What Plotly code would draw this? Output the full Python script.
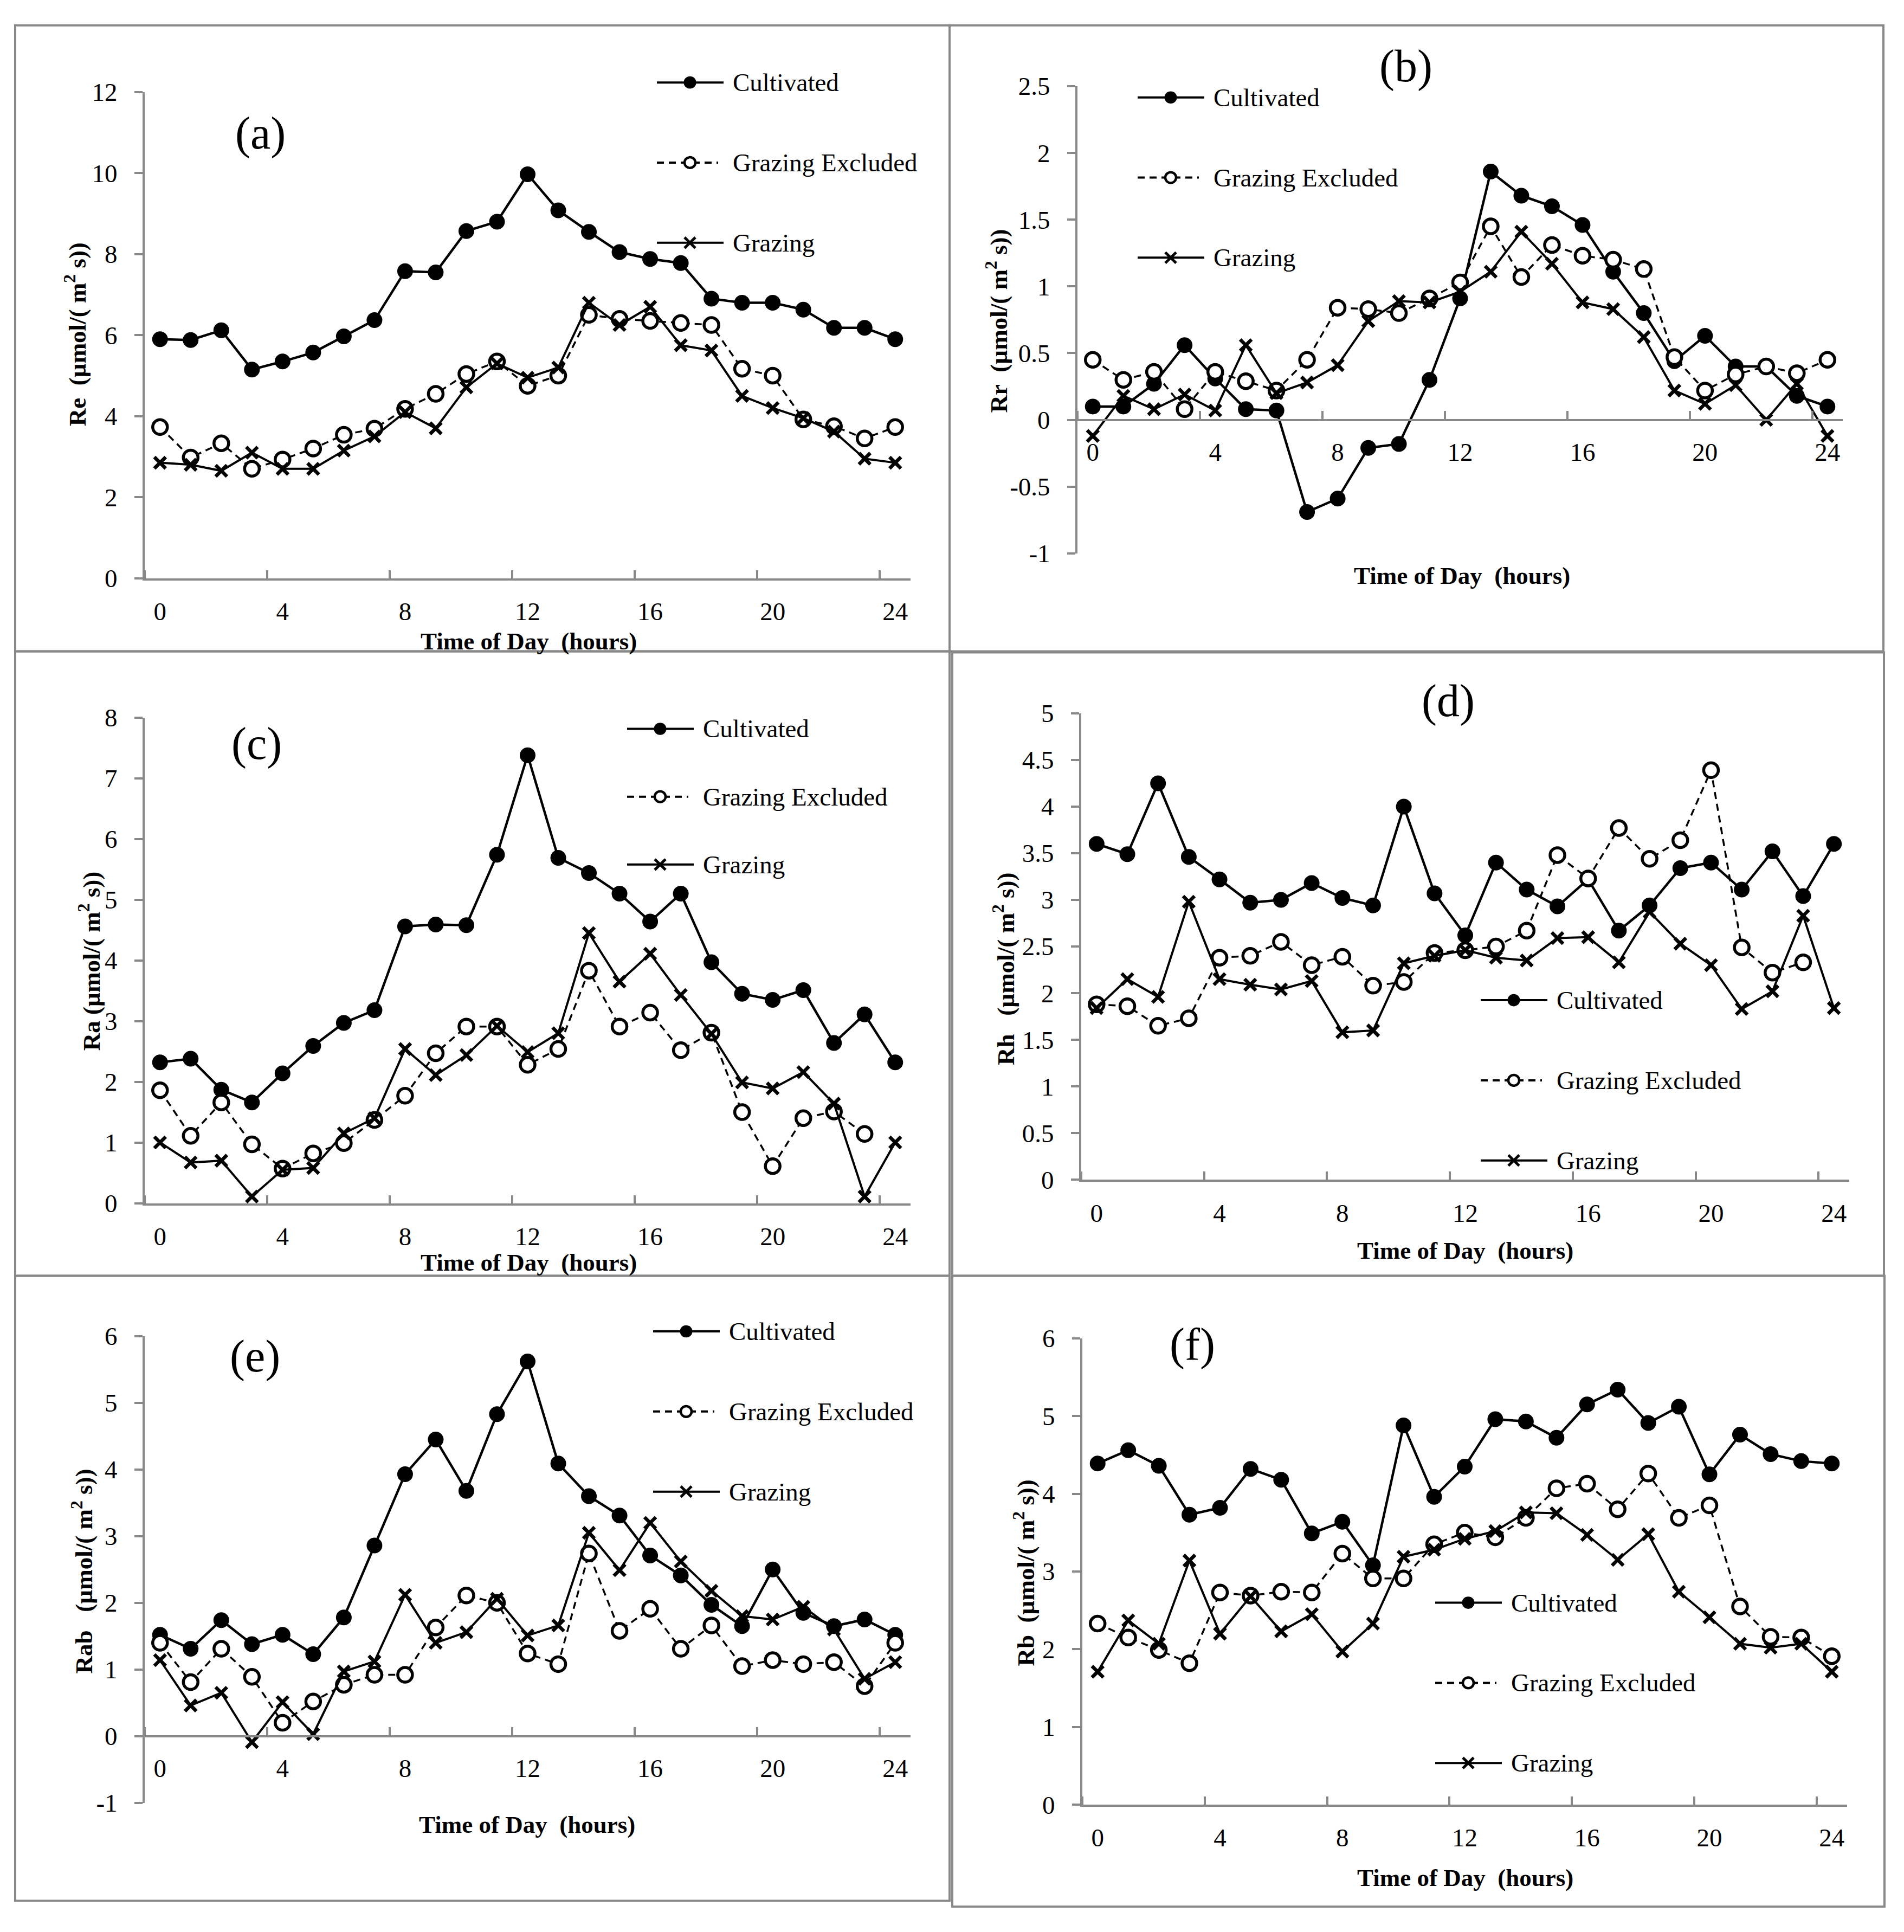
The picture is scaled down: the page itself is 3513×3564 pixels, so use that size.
import plotly.graph_objects as go

# ---------------- data ----------------
hours = list(range(25))
x_tick_vals = [0, 4, 8, 12, 16, 20, 24]
x_tick_labels = ["0", "4", "8", "12", "16", "20", "24"]
x_tick_marks = [-0.5, 3.5, 7.5, 11.5, 15.5, 19.5, 23.5]

series_names = ["Cultivated", "Grazing Excluded", "Grazing"]

# (a) Re
re_cultivated = [5.90, 5.88, 6.12, 5.15, 5.35, 5.57, 5.97, 6.37, 7.58, 7.55, 8.57, 8.80, 9.97,
                 9.08, 8.55, 8.05, 7.88, 7.78, 6.90, 6.80, 6.80, 6.63, 6.18, 6.18, 5.90]
re_excluded = [3.73, 2.98, 3.33, 2.70, 2.93, 3.20, 3.54, 3.69, 4.18, 4.55, 5.04, 5.35, 4.75,
               5.00, 6.50, 6.40, 6.35, 6.30, 6.25, 5.17, 5.00, 3.92, 3.75, 3.45, 3.73]
re_grazing = [2.85, 2.80, 2.65, 3.10, 2.70, 2.70, 3.15, 3.50, 4.10, 3.70, 4.71, 5.30, 4.95,
              5.20, 6.80, 6.25, 6.70, 5.75, 5.62, 4.50, 4.20, 3.95, 3.62, 2.95, 2.85]
re_ticks = [0, 2, 4, 6, 8, 10, 12]

# (b) Rr
rr_cultivated = [0.10, 0.10, 0.27, 0.56, 0.31, 0.08, 0.07, -0.69, -0.59, -0.21, -0.18, 0.30, 0.91,
                 1.86, 1.68, 1.60, 1.46, 1.11, 0.80, 0.44, 0.63, 0.40, 0.40, 0.18, 0.10]
rr_excluded = [0.45, 0.30, 0.36, 0.08, 0.36, 0.29, 0.22, 0.45, 0.84, 0.83, 0.80, 0.91, 1.03,
               1.45, 1.07, 1.31, 1.23, 1.20, 1.13, 0.47, 0.22, 0.34, 0.40, 0.35, 0.45]
rr_grazing = [-0.12, 0.18, 0.08, 0.19, 0.07, 0.56, 0.20, 0.28, 0.41, 0.74, 0.89, 0.88, 0.96,
              1.11, 1.41, 1.17, 0.88, 0.83, 0.62, 0.22, 0.12, 0.26, 0.00, 0.27, -0.12]
rr_ticks = [-1, -0.5, 0, 0.5, 1, 1.5, 2, 2.5]

# (c) Ra
ra_cultivated = [2.32, 2.38, 1.87, 1.66, 2.14, 2.59, 2.97, 3.18, 4.56, 4.59, 4.58, 5.74, 7.38,
                 5.69, 5.44, 5.10, 4.64, 5.10, 3.97, 3.45, 3.35, 3.51, 2.64, 3.11, 2.32]
ra_excluded = [1.86, 1.11, 1.66, 0.97, 0.57, 0.82, 0.99, 1.37, 1.77, 2.47, 2.91, 2.91, 2.28,
               2.54, 3.83, 2.91, 3.14, 2.52, 2.81, 1.50, 0.61, 1.40, 1.51, 1.14, None]
ra_grazing = [1.00, 0.67, 0.70, 0.11, 0.55, 0.58, 1.15, 1.40, 2.54, 2.11, 2.44, 2.92, 2.49,
              2.80, 4.45, 3.65, 4.11, 3.43, 2.79, 1.99, 1.89, 2.16, 1.64, 0.11, 1.00]
ra_ticks = [0, 1, 2, 3, 4, 5, 6, 7, 8]

# (d) Rh
rh_cultivated = [3.60, 3.49, 4.25, 3.46, 3.22, 2.97, 3.00, 3.18, 3.02, 2.94, 4.00, 3.07, 2.62,
                 3.40, 3.11, 2.93, 3.22, 2.67, 2.94, 3.34, 3.40, 3.11, 3.52, 3.04, 3.60]
rh_excluded = [1.88, 1.86, 1.65, 1.73, 2.38, 2.40, 2.55, 2.30, 2.39, 2.08, 2.12, 2.43, 2.46,
               2.50, 2.67, 3.48, 3.23, 3.77, 3.44, 3.64, 4.39, 2.49, 2.22, 2.33, None]
rh_grazing = [1.84, 2.15, 1.96, 2.98, 2.15, 2.09, 2.04, 2.13, 1.58, 1.60, 2.32, 2.40, 2.46,
              2.38, 2.35, 2.59, 2.60, 2.33, 2.87, 2.53, 2.30, 1.83, 2.02, 2.83, 1.84]
rh_ticks = [0, 0.5, 1, 1.5, 2, 2.5, 3, 3.5, 4, 4.5, 5]

# (e) Rab
rab_cultivated = [1.52, 1.31, 1.74, 1.38, 1.52, 1.23, 1.78, 2.86, 3.93, 4.45, 3.68, 4.83, 5.62,
                  4.09, 3.60, 3.31, 2.71, 2.41, 1.97, 1.65, 2.50, 1.85, 1.65, 1.75, 1.52]
rab_excluded = [1.40, 0.81, 1.31, 0.89, 0.20, 0.52, 0.77, 0.92, 0.92, 1.63, 2.11, 2.00, 1.24,
                1.08, 2.74, 1.58, 1.91, 1.31, 1.66, 1.05, 1.14, 1.08, 1.11, 0.75, 1.40]
rab_grazing = [1.14, 0.46, 0.65, -0.09, 0.51, 0.03, 0.97, 1.12, 2.12, 1.40, 1.56, 2.06, 1.51,
               1.66, 3.05, 2.49, 3.20, 2.62, 2.18, 1.80, 1.75, 1.94, 1.60, 0.86, 1.11]
rab_ticks = [-1, 0, 1, 2, 3, 4, 5, 6]

# (f) Rb
rb_cultivated = [4.39, 4.56, 4.36, 3.73, 3.82, 4.32, 4.18, 3.49, 3.64, 3.08, 4.88, 3.96, 4.35,
                 4.96, 4.93, 4.72, 5.15, 5.34, 4.91, 5.12, 4.25, 4.76, 4.51, 4.42, 4.39]
rb_excluded = [2.33, 2.15, 1.99, 1.82, 2.73, 2.69, 2.74, 2.73, 3.23, 2.91, 2.91, 3.35, 3.50,
               3.44, 3.69, 4.07, 4.13, 3.80, 4.26, 3.69, 3.85, 2.55, 2.16, 2.15, 1.91]
rb_grazing = [1.71, 2.37, 2.07, 3.14, 2.20, 2.68, 2.23, 2.45, 1.97, 2.33, 3.19, 3.28, 3.42,
              3.52, 3.76, 3.75, 3.47, 3.15, 3.48, 2.74, 2.41, 2.07, 2.02, 2.07, 1.71]
rb_ticks = [0, 1, 2, 3, 4, 5, 6]

# ---------------- styling / layout (pixel positions of the 3513x3564 page) ----------------
W, H = 3513, 3564
GREY = "#898989"
FONT = "Liberation Serif"
NB = "\u00a0"
GE_DASH = "13px,9px"


def fx(p):
    return p / W


def fy(p):
    return 1 - p / H


def fmt(v):
    return "%g" % v


panels = [
    dict(label="(a)", name="Re", spaces=2, data=(re_cultivated, re_excluded, re_grazing),
         ticks=re_ticks, box=(267, 1680, 146, 1056), xaxis_at=None,
         label_pos=(480, 223), xt=(975, 1174), yt=(139, 600),
         leg=(1273, 128), gap=150, frame=(28, 1752, 21, 1193)),
    dict(label="(b)", name="Rr", spaces=2, data=(rr_cultivated, rr_excluded, rr_grazing),
         ticks=rr_ticks, box=(1988, 3400, 135, 1009.5), xaxis_at=760,
         label_pos=(2594, 97), xt=(2697, 1051), yt=(1840, 575),
         leg=(2160, 156), gap=150, frame=(1752, 3475, 21, 1193)),
    dict(label="(c)", name="Ra", spaces=1, data=(ra_cultivated, ra_excluded, ra_grazing),
         ticks=ra_ticks, box=(267, 1680, 1317, 2226), xaxis_at=None,
         label_pos=(473, 1366), xt=(975, 2337), yt=(165, 1773),
         leg=(1218, 1338), gap=127, frame=(28, 1752, 1193, 2362)),
    dict(label="(d)", name="Rh", spaces=3, data=(rh_cultivated, rh_excluded, rh_grazing),
         ticks=rh_ticks, box=(1995, 3412, 1309, 2182), xaxis_at=None,
         label_pos=(2672, 1286), xt=(2703, 2315), yt=(1853, 1787),
         leg=(2793, 1846), gap=150, frame=(1757, 3476, 1195, 2362)),
    dict(label="(e)", name="Rab", spaces=3, data=(rab_cultivated, rab_excluded, rab_grazing),
         ticks=rab_ticks, box=(267, 1680, 2475, 3348.5), xaxis_at=3224,
         label_pos=(470, 2513), xt=(972, 3389), yt=(152, 2915),
         leg=(1266, 2466), gap=150, frame=(28, 1752, 2362, 3532)),
    dict(label="(f)", name="Rb", spaces=2, data=(rb_cultivated, rb_excluded, rb_grazing),
         ticks=rb_ticks, box=(1997, 3408, 2479, 3352), xaxis_at=None,
         label_pos=(2200, 2490), xt=(2703, 3489), yt=(1890, 2918),
         leg=(2709, 2974), gap=150, frame=(1757, 3477, 2362, 3543)),
]

styles = [
    dict(line=dict(color="black", width=4.5),
         marker=dict(symbol="circle", size=29, color="black")),
    dict(line=dict(color="black", width=3.5, dash=GE_DASH),
         marker=dict(symbol="circle", size=27, color="white", line=dict(color="black", width=5.5))),
    dict(line=dict(color="black", width=4),
         marker=dict(symbol="x-thin", size=21, color="black", line=dict(color="black", width=6.5))),
]

fig = go.Figure()
layout = dict(
    width=W, height=H, margin=dict(l=0, r=0, t=0, b=0), showlegend=False,
    paper_bgcolor="white", plot_bgcolor="white",
    font=dict(family=FONT, color="black"),
    annotations=[], shapes=[],
)


def seg(x0, y0, x1, y1, width, dash="solid"):
    return dict(type="line", xref="paper", yref="paper",
                x0=fx(x0), y0=fy(y0), x1=fx(x1), y1=fy(y1),
                line=dict(color="black", width=width, dash=dash), layer="above")


def circ(cx, cy, r, fill, lw):
    return dict(type="circle", xref="paper", yref="paper",
                x0=fx(cx - r), x1=fx(cx + r), y0=fy(cy + r), y1=fy(cy - r),
                fillcolor=fill, line=dict(color="black", width=lw), layer="above")


for i, p in enumerate(panels, start=1):
    sx = "" if i == 1 else str(i)
    x0, x1, y0, y1 = p["box"]
    for nm, ys, st in zip(series_names, p["data"], styles):
        fig.add_trace(go.Scatter(
            x=hours, y=ys, name=nm, mode="lines+markers",
            line=st["line"], marker=st["marker"],
            xaxis="x" + sx, yaxis="y" + sx, showlegend=False,
            cliponaxis=False, hoverinfo="skip",
        ))

    xa = dict(
        domain=[fx(x0), fx(x1)], range=[-0.5, 24.5], showgrid=False, zeroline=False,
        showline=True, linecolor=GREY, linewidth=4,
        tickmode="array", tickvals=x_tick_vals, ticktext=x_tick_labels, ticks="",
        tickfont=dict(family=FONT, size=47, color="black"), ticklabelstandoff=17,
        minor=dict(tickmode="array", tickvals=x_tick_marks, ticks="inside",
                   ticklen=15, tickwidth=4, tickcolor=GREY, showgrid=False),
    )
    if p["xaxis_at"] is None:
        xa["anchor"] = "y" + sx
    else:
        xa["anchor"] = "free"
        xa["position"] = fy(p["xaxis_at"])
    ya = dict(
        domain=[fy(y1), fy(y0)], range=[p["ticks"][0], p["ticks"][-1]],
        anchor="x" + sx, showgrid=False, zeroline=False,
        showline=True, linecolor=GREY, linewidth=4,
        tickmode="array", tickvals=p["ticks"], ticktext=[fmt(v) for v in p["ticks"]],
        ticks="outside", ticklen=15, tickwidth=4, tickcolor=GREY,
        tickfont=dict(family=FONT, size=47, color="black"), ticklabelstandoff=22,
    )
    layout["xaxis" + sx] = xa
    layout["yaxis" + sx] = ya

    # in-plot legend: long sample line with the marker in its middle, text to the right
    mx, ly = p["leg"]
    for k, nm in enumerate(series_names):
        cy = ly + k * p["gap"]
        if k == 0:
            layout["shapes"].append(seg(mx - 61, cy, mx + 62, cy, 4))
            layout["shapes"].append(circ(mx, cy, 11.5, "black", 0))
        elif k == 1:
            layout["shapes"].append(seg(mx - 61, cy, mx + 52, cy, 4, GE_DASH))
            layout["shapes"].append(circ(mx, cy, 10, "white", 4.5))
        else:
            layout["shapes"].append(seg(mx - 61, cy, mx + 62, cy, 4))
            layout["shapes"].append(seg(mx - 10, cy - 10, mx + 10, cy + 10, 5))
            layout["shapes"].append(seg(mx - 10, cy + 10, mx + 10, cy - 10, 5))
        layout["annotations"].append(dict(
            text=nm, x=fx(mx + 77), y=fy(cy), xref="paper", yref="paper",
            showarrow=False, xanchor="left", yanchor="middle",
            font=dict(family=FONT, size=47, color="black")))

    layout["annotations"] += [
        dict(text=p["label"], x=fx(p["label_pos"][0]), y=fy(p["label_pos"][1]),
             xref="paper", yref="paper", showarrow=False, xanchor="center", yanchor="middle",
             font=dict(family=FONT, size=84, color="black")),
        dict(text="<b>Time of Day" + NB + NB + "(hours)</b>",
             x=fx(p["xt"][0]), y=fy(p["xt"][1]), xref="paper", yref="paper",
             showarrow=False, xanchor="center", yanchor="middle",
             font=dict(family=FONT, size=45, color="black")),
        dict(text="<b>" + p["name"] + NB * p["spaces"] + "(\u00b5mol/(" + NB + "m<sup>2</sup> s))</b>",
             x=fx(p["yt"][0]), y=fy(p["yt"][1]), xref="paper", yref="paper",
             showarrow=False, xanchor="center", yanchor="middle", textangle=-90,
             font=dict(family=FONT, size=45, color="black")),
    ]
    fx0, fx1, fy0, fy1 = p["frame"]
    layout["shapes"].append(dict(
        type="rect", xref="paper", yref="paper",
        x0=fx(fx0), x1=fx(fx1), y0=fy(fy1), y1=fy(fy0),
        line=dict(color=GREY, width=4), fillcolor="rgba(0,0,0,0)", layer="below"))

fig.update_layout(**layout)
fig.write_html("out.html", config={"displayModeBar": False},
               post_script="document.body.style.margin='0';document.body.style.overflow='hidden';")
